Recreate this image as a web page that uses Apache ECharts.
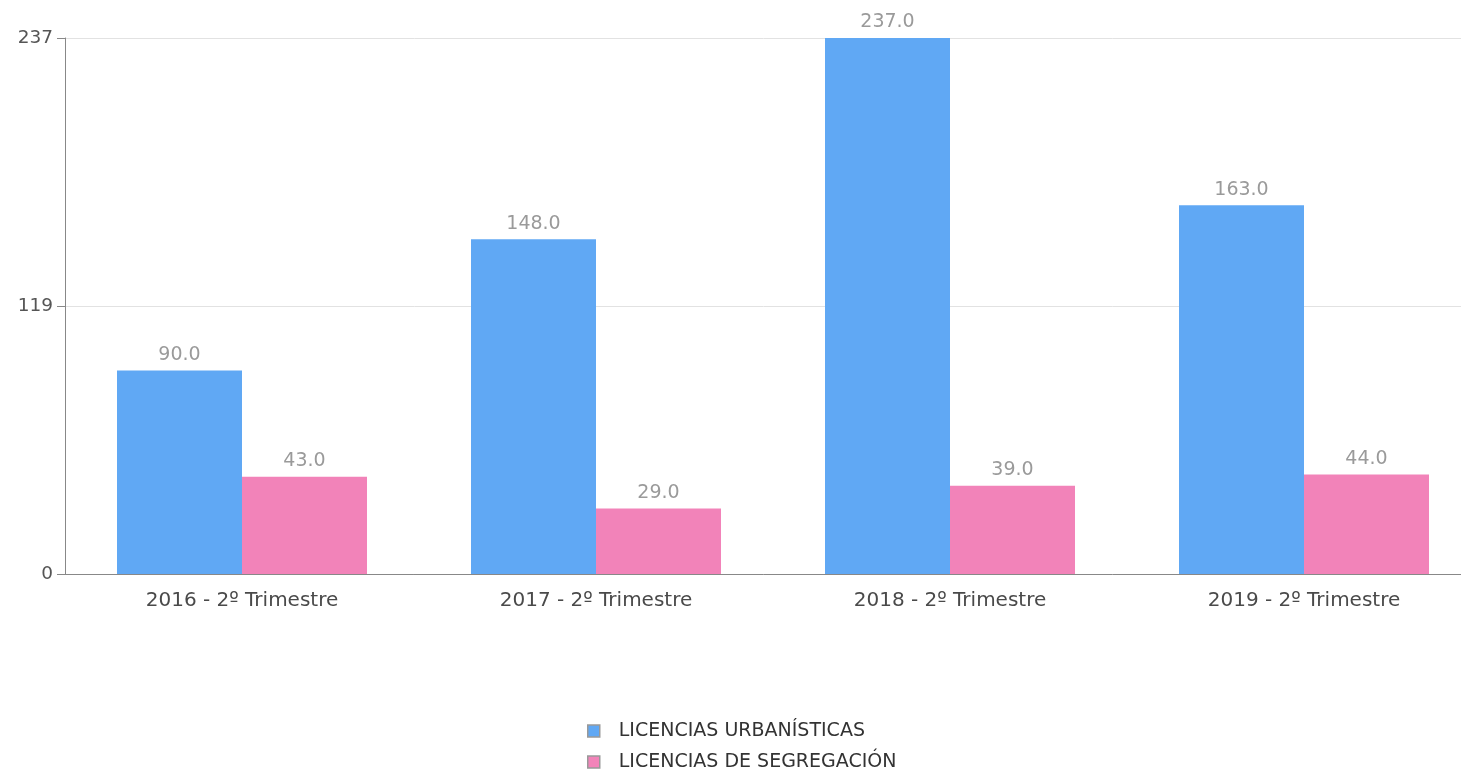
<!DOCTYPE html>
<html>
<head>
<meta charset="utf-8">
<script src="https://cdn.jsdelivr.net/npm/echarts@6/dist/echarts.min.js"></script>
<style>
  html, body { margin: 0; padding: 0; background: #fff; }
  #chart { width: 1461px; height: 773px; }
</style>
</head>
<body>
<div id="chart"></div>
<script>
const categories = ['2016 - 2º Trimestre', '2017 - 2º Trimestre', '2018 - 2º Trimestre', '2019 - 2º Trimestre']
const seriesNames = ['LICENCIAS URBANÍSTICAS', 'LICENCIAS DE SEGREGACIÓN']
const urbanisticas = [90, 148, 237, 163]
const segregacion = [43, 29, 39, 44]
const colors = ['#60a8f4', '#f283b9']

const chart = echarts.init(document.getElementById('chart'))

const labelStyle = {
  show: true,
  position: 'top',
  distance: 6,
  color: '#9a9a9a',
  fontFamily: 'DejaVu Sans',
  fontSize: 19,
  formatter: p => p.value.toFixed(1)
}

chart.setOption({
  animation: false,
  textStyle: { fontFamily: 'DejaVu Sans' },
  grid: { left: 65, top: 38, width: 1416, height: 536, outerBoundsMode: 'none' },
  legend: {
    orient: 'vertical',
    left: 587,
    top: 721,
    padding: 0,
    itemWidth: 12,
    itemHeight: 12,
    itemGap: 11,
    icon: 'rect',
    textStyle: { fontSize: 19, lineHeight: 20, color: '#333', fontFamily: 'DejaVu Sans', padding: [0, 0, 0, 14] },
    data: seriesNames.map((n, i) => ({
      name: n,
      itemStyle: { color: colors[i], borderColor: '#999', borderWidth: 1.5 }
    }))
  },
  xAxis: {
    type: 'category',
    data: categories,
    axisLine: { lineStyle: { color: '#888' } },
    axisTick: { show: false },
    axisLabel: { color: '#4a4a4a', fontSize: 20, margin: 17 }
  },
  yAxis: {
    type: 'value',
    min: 0,
    max: 237,
    interval: 118.5,
    axisLine: { show: true, lineStyle: { color: '#888' } },
    axisTick: { show: true, length: 8, lineStyle: { color: '#888' } },
    axisLabel: { color: '#555', fontSize: 18.5, margin: 12, formatter: v => Math.round(v) },
    splitLine: { lineStyle: { color: '#e2e2e2' } }
  },
  series: [
    {
      name: seriesNames[0],
      type: 'bar',
      data: urbanisticas,
      barWidth: 125,
      barGap: '0%',
      itemStyle: { color: colors[0] },
      label: labelStyle
    },
    {
      name: seriesNames[1],
      type: 'bar',
      data: segregacion,
      barWidth: 125,
      barGap: '0%',
      itemStyle: { color: colors[1] },
      label: labelStyle
    }
  ]
})
</script>
</body>
</html>
